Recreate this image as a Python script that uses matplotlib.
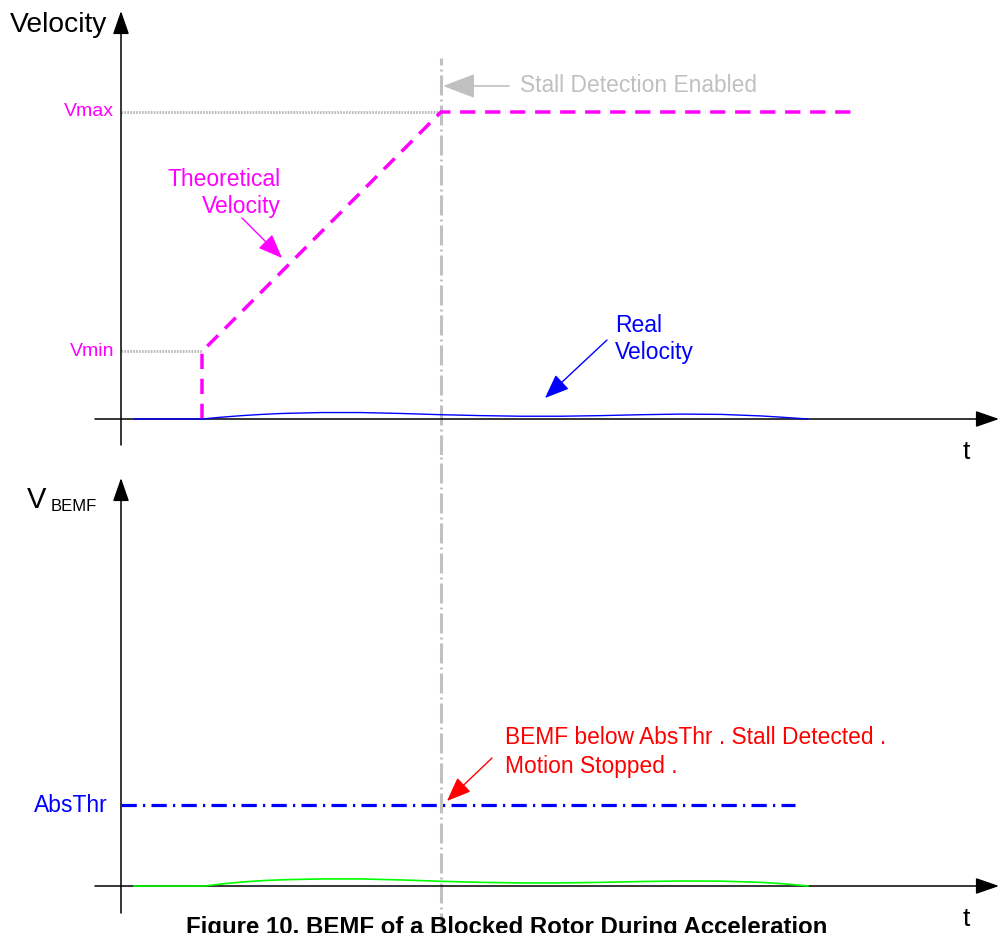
import numpy as np
import matplotlib
matplotlib.use("Agg")
import matplotlib.pyplot as plt

plt.rcParams['font.family'] = ['Liberation Sans', 'DejaVu Sans']
plt.rcParams['lines.scale_dashes'] = False

# ---- data (arbitrary units) ----
t_ramp_start = 0.81      # theoretical velocity jumps to Vmin
t_stall = 3.20           # Vmax reached, stall detection enabled
t_vmax_end = 7.34        # end of the drawn Vmax plateau
t_thr_end = 6.74         # end of the AbsThr line
v_min = 0.22
v_max = 1.0
abs_thr = 1.0

# real velocity (top) - tiny wobble, blocked rotor
real_t = [0.13, 0.81, 1.01, 1.21, 1.41, 1.61, 2.0, 2.4, 2.8, 3.2, 3.6, 4.0, 4.4,
          4.8, 5.2, 5.6, 6.0, 6.4, 6.6, 6.87]
real_v = [0.0, 0.0, 0.006, 0.011, 0.015, 0.018, 0.021, 0.021, 0.018, 0.014, 0.011,
          0.009, 0.009, 0.011, 0.014, 0.016, 0.015, 0.010, 0.006, 0.0]

# BEMF (bottom) - same shape, green
bemf_t = [0.13, 0.84, 1.04, 1.24, 1.44, 1.64, 2.0, 2.4, 2.8, 3.2, 3.6, 4.0, 4.4,
          4.8, 5.2, 5.6, 6.0, 6.4, 6.6, 6.87]
bemf_v = [0.0, 0.0, 0.030, 0.052, 0.068, 0.078, 0.087, 0.087, 0.075, 0.058, 0.045,
          0.038, 0.038, 0.045, 0.055, 0.062, 0.060, 0.045, 0.030, 0.0]

theo_t = [t_ramp_start, t_ramp_start, t_stall, t_vmax_end]
theo_v = [0.0, v_min, v_max, v_max]

# ---- layout: pixel mapping ----
W, H = 999, 933
PX_T, T0 = 100.0, 121.0           # px per t unit, x pixel of t=0
TOP_SPLIT = 455.0
V_PX, V0 = 307.0, 419.0           # top panel
B_PX, B0 = 81.0, 886.0            # bottom panel

fig = plt.figure(figsize=(W / 100, H / 100), dpi=100)
ax1 = fig.add_axes([0, 1 - TOP_SPLIT / H, 1, TOP_SPLIT / H])
ax2 = fig.add_axes([0, 0, 1, 1 - TOP_SPLIT / H])

xlim = (-T0 / PX_T, (W - T0) / PX_T)
ax1.set_xlim(xlim)
ax1.set_ylim((V0 - TOP_SPLIT) / V_PX, V0 / V_PX)
ax2.set_xlim(xlim)
ax2.set_ylim((B0 - H) / B_PX, (B0 - TOP_SPLIT) / B_PX)
for ax in (ax1, ax2):
    ax.axis('off')

magenta = '#ff00ff'
gray = '#c0c0c0'
blue = '#0000ff'
red = '#ff0000'

axis_arrow = dict(arrowstyle='-|>,head_length=0.72,head_width=0.25',
                  color='black', lw=1.1, mutation_scale=20, shrinkA=0, shrinkB=0)

# axes with arrows
ax1.annotate('', xy=(0, 408 / V_PX), xytext=(0, -26 / V_PX), arrowprops=axis_arrow)
ax1.annotate('', xy=(8.78, 0), xytext=(-0.26, 0), arrowprops=axis_arrow)
ax2.annotate('', xy=(0, 408 / B_PX), xytext=(0, -27 / B_PX), arrowprops=axis_arrow)
ax2.annotate('', xy=(8.78, 0), xytext=(-0.26, 0), arrowprops=axis_arrow)

# stall detection vertical line (dash-dot gray), spans both panels
for ax, top in ((ax1, 361 / V_PX), (ax2, ax2.get_ylim()[1])):
    bottom = ax.get_ylim()[0]
    ln, = ax.plot([t_stall, t_stall], [bottom, top], color=gray, lw=2.2, zorder=1)
    ln.set_dashes((14.4, 2.9, 1.4, 2.9))

# guide dotted lines for Vmin / Vmax
ax1.plot([0, t_stall], [v_max, v_max], color='#b8b8b8', lw=2.0, ls=(0, (1.2, 0.9)), zorder=1)
ax1.plot([0, t_ramp_start], [v_min, v_min], color='#b8b8b8', lw=2.0, ls=(0, (1.2, 0.9)), zorder=1)

# theoretical velocity
ln, = ax1.plot(theo_t, theo_v, color=magenta, lw=2.5, zorder=3)
ln.set_dashes((11, 7))

# real velocity
ax1.plot(real_t, real_v, color=blue, lw=1.0, zorder=4)

# BEMF + threshold
ax2.plot(bemf_t, bemf_v, color='#00ff00', lw=1.2, zorder=4)
ln, = ax2.plot([0, t_thr_end], [abs_thr, abs_thr], color=blue, lw=2.3, zorder=3)
ln.set_dashes((11, 4.5, 1.6, 4.5))

# labels
ax1.text(-1.11, 394 / V_PX, 'Velocity', fontsize=20.3, va='center', ha='left')
ax1.text(-0.07, v_max, 'Vmax', color=magenta, fontsize=14, va='center', ha='right')
ax1.text(-0.07, v_min, 'Vmin', color=magenta, fontsize=14, va='center', ha='right')
ax1.text(8.42, -33 / V_PX, 't', fontsize=19, va='center', ha='left')
ax1.text(1.60, 240 / V_PX, 'Theoretical', color=magenta, fontsize=16.5, va='center', ha='right')
ax1.text(1.60, 212 / V_PX, 'Velocity', color=magenta, fontsize=16.5, va='center', ha='right')
ax1.annotate('', xy=(1.61, 161 / V_PX), xytext=(1.21, 201 / V_PX),
             arrowprops=dict(arrowstyle='-|>,head_length=0.75,head_width=0.3',
                             color=magenta, lw=1.0, mutation_scale=20, shrinkA=0, shrinkB=0))
ax1.text(3.99, 333 / V_PX, 'Stall Detection Enabled', color=gray, fontsize=16.4,
         va='center', ha='left')
ax1.annotate('', xy=(t_stall + 0.02, 333 / V_PX), xytext=(3.88, 333 / V_PX),
             arrowprops=dict(arrowstyle='-|>,head_length=1.0,head_width=0.38',
                             color=gray, lw=1.2, mutation_scale=20, shrinkA=0, shrinkB=0))
ax1.text(4.94, 94 / V_PX, 'Real', color=blue, fontsize=16.5, va='center', ha='left')
ax1.text(4.94, 67 / V_PX, 'Velocity', color=blue, fontsize=16.5, va='center', ha='left')
ax1.annotate('', xy=(4.24, 21 / V_PX), xytext=(4.86, 79 / V_PX),
             arrowprops=dict(arrowstyle='-|>,head_length=0.75,head_width=0.3',
                             color=blue, lw=1.0, mutation_scale=20, shrinkA=0, shrinkB=0))

ax2.text(-0.94, 386 / B_PX, 'V', fontsize=21, va='center', ha='left')
ax2.text(-0.70, 379 / B_PX, 'BEMF', fontsize=12, va='center', ha='left')
ax2.text(-0.13, abs_thr, 'AbsThr', color=blue, fontsize=16.5, va='center', ha='right')
ax2.text(8.42, -33 / B_PX, 't', fontsize=19, va='center', ha='left')
ax2.text(3.84, 148 / B_PX, 'BEMF below AbsThr . Stall Detected .', color=red,
         fontsize=16.4, va='center', ha='left')
ax2.text(3.84, 120 / B_PX, 'Motion Stopped .', color=red, fontsize=16.4,
         va='center', ha='left')
ax2.annotate('', xy=(3.26, 85 / B_PX), xytext=(3.71, 128 / B_PX),
             arrowprops=dict(arrowstyle='-|>,head_length=0.75,head_width=0.3',
                             color=red, lw=1.0, mutation_scale=20, shrinkA=0, shrinkB=0))

# caption, cut off at the bottom edge like the source
ax2.text(3.86, -30 / B_PX, 'Figure 10. BEMF of a Blocked Rotor During Acceleration',
         fontsize=17.3, fontweight='bold', va='top', ha='center', clip_on=False)

fig.savefig('out.png', dpi=100)
